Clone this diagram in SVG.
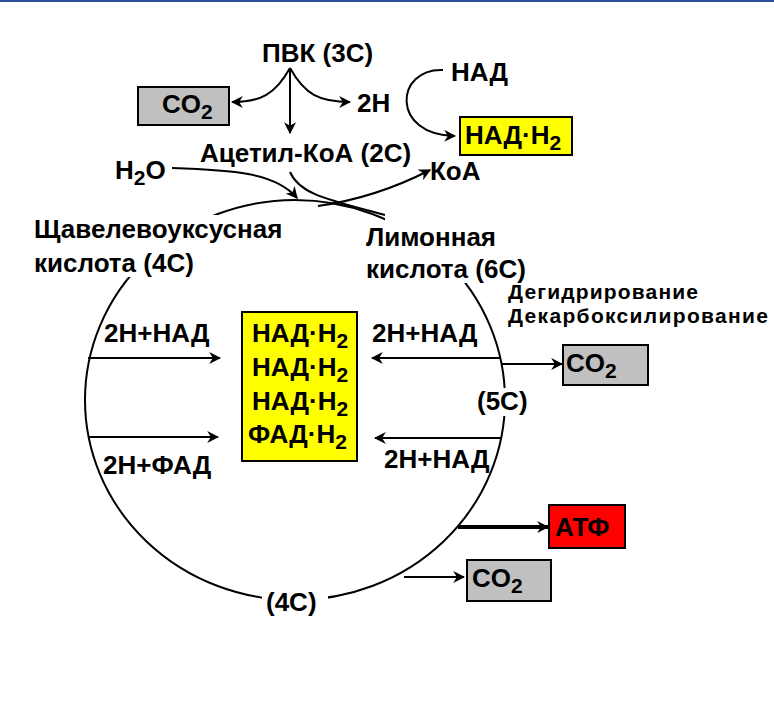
<svg xmlns="http://www.w3.org/2000/svg" width="774" height="702" viewBox="0 0 774 702">
<defs>
<marker id="ah2" viewBox="0 0 10 10" refX="9" refY="5" markerWidth="12" markerHeight="12" orient="auto" markerUnits="userSpaceOnUse"><path d="M0,0 L10,5 L0,10 L3,5 Z" fill="#000"/></marker>
<style>
text{font-family:"Liberation Sans",Arial,sans-serif;font-weight:bold;font-size:26px;fill:#000}
.s{font-size:21px}
.p{font-size:21px}
.ln{fill:none;stroke:#000;stroke-width:2}
.gray{fill:#c0c0c0;stroke:#000;stroke-width:2}
.yel{fill:#ffff00;stroke:#000;stroke-width:2}
.red{fill:#ff0000;stroke:#000;stroke-width:2}
.wb{fill:#fff}
</style>
</defs>
<rect width="774" height="702" fill="#fff"/>
<rect x="0" y="0" width="774" height="2" fill="#2a4fa0"/>
<g id="cycle">
<ellipse cx="295" cy="400" rx="210" ry="200" class="ln"/>
<rect class="wb" x="30" y="215" width="190" height="62"/>
<rect class="wb" x="385" y="213" width="150" height="70"/>
<rect class="wb" x="475" y="388" width="60" height="28"/>
<rect class="wb" x="262" y="588" width="66" height="28"/>
</g>
<g id="connectors">
<path class="ln" d="M290,68 C275,95 260,102 232,102" marker-end="url(#ah2)"/>
<path class="ln" d="M290,68 L290,133" marker-end="url(#ah2)"/>
<path class="ln" d="M290,68 C305,95 320,102 350,102" marker-end="url(#ah2)"/>
<path class="ln" d="M443,70 C395,68 390,135 455,136" marker-end="url(#ah2)"/>
<path class="ln" d="M172,168 C230,170 275,172 297,198" marker-end="url(#ah2)"/>
<path class="ln" d="M290,172 C300,195 330,200 385,215"/>
<path class="ln" d="M318,206 C360,200 395,188 430,170" marker-end="url(#ah2)"/>
<path class="ln" d="M88,358 L220,358" marker-end="url(#ah2)"/>
<path class="ln" d="M88,437 L218,437" marker-end="url(#ah2)"/>
<path class="ln" d="M501,358 L372,358" marker-end="url(#ah2)"/>
<path class="ln" d="M501,438 L375,438" marker-end="url(#ah2)"/>
<path class="ln" d="M501,364 L562,364" marker-end="url(#ah2)"/>
<path fill="none" stroke="#000" stroke-width="4" d="M458,527 L548,527" marker-end="url(#ah2)"/>
<path class="ln" d="M404,577 L464,577" marker-end="url(#ah2)"/>
</g>
<g id="pvk"><text x="262" y="62">ПВК (3С)</text></g>
<g id="co2top"><rect class="gray" x="138" y="87" width="91" height="38"/><text x="162" y="113">CO<tspan class="s" dy="6">2</tspan></text></g>
<g id="h2"><text x="357" y="112">2Н</text></g>
<g id="nad"><text x="451" y="81">НАД</text></g>
<g id="nadh2top"><rect class="yel" x="460" y="117" width="112" height="38"/><text x="465" y="144">НАД·Н<tspan class="s" dy="6">2</tspan></text></g>
<g id="acetyl"><text x="200" y="162">Ацетил-КоА (2С)</text></g>
<g id="h2o"><text x="115" y="179">Н<tspan class="s" dy="6">2</tspan><tspan dy="-6">О</tspan></text></g>
<g id="koa"><text x="430" y="180">КоА</text></g>
<g id="oxal"><text x="34" y="238">Щавелевоуксусная</text><text x="34" y="272">кислота (4С)</text></g>
<g id="citr"><text x="366" y="246">Лимонная</text><text x="366" y="278">кислота (6С)</text></g>
<g id="proc"><text class="p" x="508" y="299" textLength="190">Дегидрирование</text><text class="p" x="508" y="323" textLength="260">Декарбоксилирование</text></g>
<g id="l1"><text x="104" y="342">2Н+НАД</text></g>
<g id="l2"><text x="103" y="474">2Н+ФАД</text></g>
<g id="r1"><text x="372" y="342">2Н+НАД</text></g>
<g id="r2"><text x="384" y="468">2Н+НАД</text></g>
<g id="center"><rect class="yel" x="242" y="312" width="115" height="149"/>
<text x="252" y="342">НАД·Н<tspan class="s" dy="6">2</tspan></text>
<text x="252" y="376">НАД·Н<tspan class="s" dy="6">2</tspan></text>
<text x="252" y="410">НАД·Н<tspan class="s" dy="6">2</tspan></text>
<text x="248" y="443">ФАД·Н<tspan class="s" dy="6">2</tspan></text></g>
<g id="co2r"><rect class="gray" x="563" y="345" width="85" height="40"/><text x="566" y="372">CO<tspan class="s" dy="6">2</tspan></text></g>
<g id="c5"><text x="477" y="410">(5С)</text></g>
<g id="atf"><rect class="red" x="549" y="505" width="76" height="43"/><text x="555" y="536">АТФ</text></g>
<g id="co2b"><rect class="gray" x="467" y="560" width="84" height="41"/><text x="472" y="587">CO<tspan class="s" dy="6">2</tspan></text></g>
<g id="c4"><text x="266" y="611">(4С)</text></g>
</svg>
